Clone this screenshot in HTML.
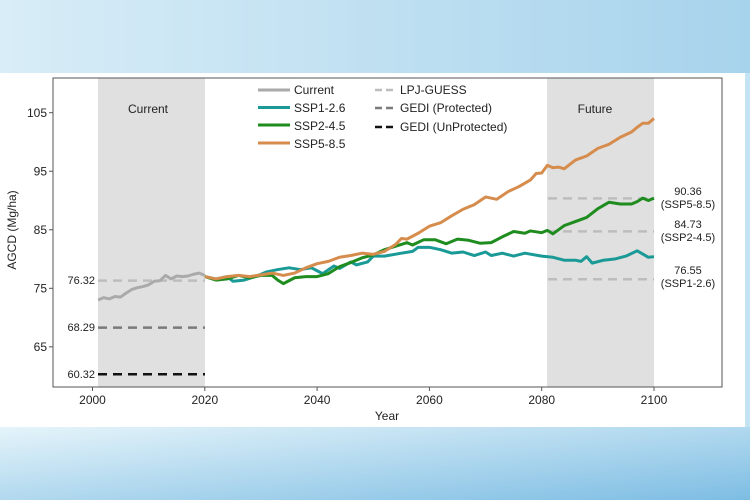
<!DOCTYPE html>
<html><head><style>
body{margin:0;width:750px;height:500px;overflow:hidden;background:#fff;}
</style></head><body>
<svg width="750" height="500" style="position:absolute;left:0;top:0" font-family="Liberation Sans, sans-serif">
<defs><linearGradient id="g1" x1="0" y1="0" x2="1" y2="0"><stop offset="0" stop-color="#d8edf7"/><stop offset="1" stop-color="#a7d3ec"/></linearGradient>
<linearGradient id="g2" x1="0" y1="0" x2="1" y2="1"><stop offset="0" stop-color="#e5f4fa"/><stop offset="1" stop-color="#7dbde3"/></linearGradient></defs>
<rect x="0" y="0" width="750" height="73" fill="url(#g1)"/>
<rect x="0" y="427" width="750" height="73" fill="url(#g2)"/>
<rect x="745" y="73" width="5" height="354" fill="#c4e3f3"/>
<rect x="98" y="78" width="107" height="309" fill="#e0e0e0"/>
<rect x="547" y="78" width="107" height="309" fill="#e0e0e0"/>
<rect x="53" y="78" width="669" height="309" fill="none" stroke="#555" stroke-width="1"/>
<g stroke="#555"><line x1="92.5" y1="387" x2="92.5" y2="391"/><line x1="204.8" y1="387" x2="204.8" y2="391"/><line x1="317.1" y1="387" x2="317.1" y2="391"/><line x1="429.4" y1="387" x2="429.4" y2="391"/><line x1="541.7" y1="387" x2="541.7" y2="391"/><line x1="654" y1="387" x2="654" y2="391"/>
<line x1="49" y1="112.7" x2="53" y2="112.7"/><line x1="49" y1="171.2" x2="53" y2="171.2"/><line x1="49" y1="229.8" x2="53" y2="229.8"/><line x1="49" y1="288.3" x2="53" y2="288.3"/><line x1="49" y1="346.8" x2="53" y2="346.8"/></g>
<g font-size="12" fill="#222" text-anchor="middle"><text x="92.5" y="404">2000</text><text x="204.8" y="404">2020</text><text x="317.1" y="404">2040</text><text x="429.4" y="404">2060</text><text x="541.7" y="404">2080</text><text x="654" y="404">2100</text>
<text x="387" y="420">Year</text></g>
<g font-size="12" fill="#222" text-anchor="end"><text x="47" y="117">105</text><text x="47" y="175.5">95</text><text x="47" y="234">85</text><text x="47" y="292.5">75</text><text x="47" y="351">65</text></g>
<text transform="translate(16,230) rotate(-90)" font-size="12" fill="#222" text-anchor="middle">AGCD (Mg/ha)</text>
<g font-size="12" fill="#222"><text x="148" y="113" text-anchor="middle">Current</text><text x="595" y="113" text-anchor="middle">Future</text></g>
<g font-size="11" fill="#222" text-anchor="end"><text x="95" y="284">76.32</text><text x="95" y="331">68.29</text><text x="95" y="378">60.32</text></g>
<g font-size="11" fill="#222" text-anchor="middle"><text x="688" y="195">90.36</text><text x="688" y="208">(SSP5-8.5)</text><text x="688" y="228">84.73</text><text x="688" y="241">(SSP2-4.5)</text><text x="688" y="274">76.55</text><text x="688" y="287">(SSP1-2.6)</text></g>
<g stroke-width="2.5" stroke-dasharray="9,6" fill="none">
<line x1="98" y1="280.6" x2="205" y2="280.6" stroke="#bdbdbd"/>
<line x1="98" y1="327.6" x2="205" y2="327.6" stroke="#7a7a7a"/>
<line x1="98" y1="374.2" x2="205" y2="374.2" stroke="#111"/>
<line x1="548" y1="198.4" x2="654" y2="198.4" stroke="#bdbdbd"/>
<line x1="548" y1="231.4" x2="654" y2="231.4" stroke="#bdbdbd"/>
<line x1="548" y1="279.2" x2="654" y2="279.2" stroke="#bdbdbd"/>
</g>
<g fill="none" stroke-width="3" stroke-linejoin="round" transform="translate(92.5,288.3) scale(5.615,-5.855) translate(-2000,-75)">
<polyline vector-effect="non-scaling-stroke" stroke="#aaaaaa" points="2001,73 2002,73.4 2003,73.2 2004,73.6 2005,73.5 2006,74.2 2007,74.8 2008,75.1 2009,75.3 2010,75.6 2011,76.2 2012,76.3 2013,77.2 2014,76.6 2015,77.1 2016,77 2017,77.1 2018,77.4 2019,77.6 2020,77.2"/>
<polyline vector-effect="non-scaling-stroke" stroke="#1a9a96" points="2020,77 2022,76.6 2024,77 2025,76.2 2027,76.4 2029,77 2031,77.8 2033,78.2 2035,78.5 2037,78.2 2039,78.5 2040,78 2041,77.5 2043,78.8 2044,78.4 2046,79.5 2047,79 2049,79.5 2050,80.5 2052,80.5 2055,81 2057,81.3 2058,82 2060,82 2062,81.6 2064,81 2066,81.2 2068,80.6 2070,81.2 2071,80.6 2073,81 2075,80.5 2077,81 2080,80.5 2082,80.3 2084,79.8 2086,79.8 2087,79.6 2088,80.4 2089,79.3 2091,79.8 2093,80 2095,80.5 2097,81.4 2099,80.3 2100,80.4"/>
<polyline vector-effect="non-scaling-stroke" stroke="#1e8c1e" points="2020,77 2022,76.4 2024,76.6 2026,77.2 2028,76.8 2030,77.2 2032,77.2 2033,76.4 2034,75.8 2036,76.8 2038,77 2040,77 2042,77.5 2044,78.7 2046,79.4 2048,80.2 2050,80.7 2052,81.6 2054,82.2 2056,82.8 2057,82.4 2059,83.3 2061,83.3 2063,82.6 2065,83.4 2067,83.2 2069,82.7 2071,82.8 2073,83.8 2075,84.7 2077,84.4 2078,84.8 2080,84.5 2081,84.9 2082,84.3 2084,85.7 2086,86.4 2088,87.1 2090,88.6 2092,89.7 2094,89.4 2096,89.4 2097,89.8 2098,90.4 2099,90 2100,90.4"/>
<polyline vector-effect="non-scaling-stroke" stroke="#d68c4c" points="2020,77 2022,76.6 2024,77 2026,77.2 2028,77 2030,77.3 2032,77.6 2034,77.2 2036,77.6 2038,78.5 2040,79.2 2042,79.6 2044,80.3 2046,80.6 2048,81 2050,80.8 2052,81.3 2054,82.5 2055,83.5 2056,83.4 2058,84.4 2060,85.6 2062,86.2 2064,87.4 2066,88.5 2068,89.3 2070,90.6 2072,90.2 2074,91.5 2076,92.4 2078,93.5 2079,94.6 2080,94.7 2081,96 2082,95.6 2083,95.7 2084,95.4 2086,96.9 2088,97.6 2090,98.9 2092,99.6 2094,100.8 2096,101.7 2097,102.5 2098,103.2 2099,103.2 2100,104"/>
</g>
<g stroke-width="3" fill="none"><line x1="258" y1="90" x2="290" y2="90" stroke="#aaa"/><line x1="258" y1="107.5" x2="290" y2="107.5" stroke="#1a9a96"/><line x1="258" y1="125" x2="290" y2="125" stroke="#1e8c1e"/><line x1="258" y1="143" x2="290" y2="143" stroke="#d68c4c"/></g>
<g stroke-width="2.5" fill="none" stroke-dasharray="7,4"><line x1="375" y1="90" x2="396" y2="90" stroke="#bdbdbd"/><line x1="375" y1="108" x2="396" y2="108" stroke="#7a7a7a"/><line x1="375" y1="127" x2="396" y2="127" stroke="#111"/></g>
<g font-size="12" fill="#222"><text x="294" y="94">Current</text><text x="294" y="112">SSP1-2.6</text><text x="294" y="130">SSP2-4.5</text><text x="294" y="148">SSP5-8.5</text>
<text x="400" y="94">LPJ-GUESS</text><text x="400" y="112">GEDI (Protected)</text><text x="400" y="131">GEDI (UnProtected)</text></g>
</svg>
</body></html>
